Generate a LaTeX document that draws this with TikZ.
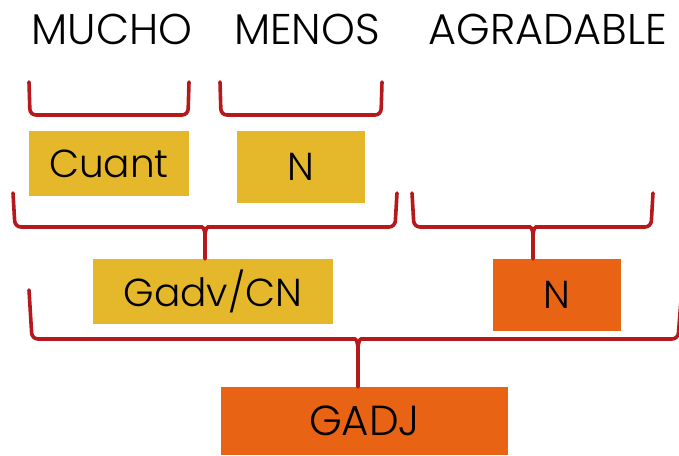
\documentclass[tikz,border=0pt]{standalone}
\usepackage{fontspec}
\setmainfont{Poppins Light}
\usetikzlibrary{positioning}
\definecolor{amarillo}{HTML}{E5B72A}
\definecolor{naranja}{HTML}{E86414}
\definecolor{rojo}{HTML}{B5191B}

\begin{document}
\begin{tikzpicture}[x=1pt, y=-1pt,
    palabra/.style={font=\fontsize{43}{43}\selectfont, inner sep=0pt, anchor=base},
    caja/.style={font=\fontsize{39}{39}\selectfont, inner sep=0pt, text=black},
    llave/.style={rojo, line width=3.6pt, rounded corners=6pt, line cap=round}]
    \useasboundingbox (0,0) rectangle (679,455);
    % Words
    \node[palabra] (mucho) at (112,44) {MUCHO};
    \node[palabra] (menos) at (307,44) {MENOS};
    \node[palabra] (agradable) at (548,44) {AGRADABLE};
    % Boxes
    \node[caja, fill=amarillo, minimum width=160, minimum height=65] (cuant) at (109,163.5) {Cuant};
    \node[caja, fill=amarillo, minimum width=128, minimum height=72] (n1) at (301,167) {N};
    \node[caja, fill=amarillo, minimum width=240, minimum height=65] (gadv) at (213,291.5) {Gadv/CN};
    \node[caja, fill=naranja, minimum width=128, minimum height=72] (n2) at (557,295) {N};
    \node[caja, fill=naranja, minimum width=287, minimum height=68, font=\fontsize{42}{42}\selectfont] (gadj) at (364.5,421) {GADJ};
    % Small braces
    \draw[llave] (29,82) -- (30,115) -- (188,115) -- (189,82);
    \draw[llave] (220,82) -- (221,115) -- (381,115) -- (382,82);
    % Braces with a tail
    \draw[llave] (13,193) -- (15,227) -- (196,227) .. controls (203,227) and (205,230) .. (205,242) -- (205,0 |- gadv.north);
    \draw[llave] (205,0 |- gadv.north) -- (205,242) .. controls (205,230) and (207,227) .. (214,227) -- (395,227) -- (397,193);
    \draw[llave] (412,193) -- (414,227) -- (524,227) .. controls (531,227) and (533,230) .. (533,242) -- (533,0 |- n2.north);
    \draw[llave] (533,0 |- n2.north) -- (533,242) .. controls (533,230) and (535,227) .. (542,227) -- (651,227) -- (653,193);
    \draw[llave] (29,290) -- (32,339) -- (349,339) .. controls (356,339) and (358,342) .. (358,356) -- (358,0 |- gadj.north);
    \draw[llave] (358,0 |- gadj.north) -- (358,356) .. controls (358,342) and (360,339) .. (367,339) -- (678,339) -- (681,300);
\end{tikzpicture}
\end{document}
